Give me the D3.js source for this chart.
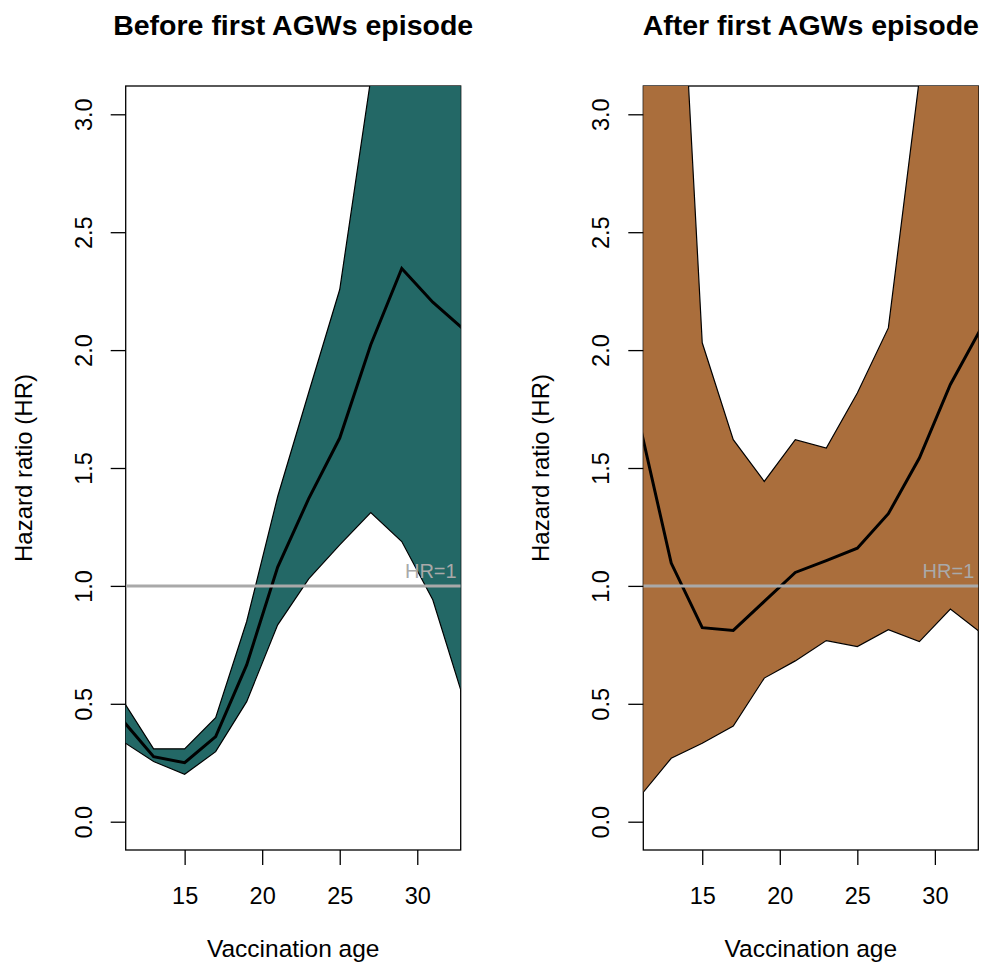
<!DOCTYPE html>
<html>
<head>
<meta charset="utf-8">
<script src="https://cdn.jsdelivr.net/npm/d3@7"></script>
<style>
  body { margin: 0; background: #fff; }
  text { font-family: "Liberation Sans", Arial, sans-serif; }
</style>
</head>
<body>
<svg id="chart" width="982" height="968"></svg>
<script>
// vaccination ages (knots)
var ages = [11, 13, 15, 17, 19, 21, 23, 25, 27, 29, 31, 33];

// before first AGWs episode
var beforeHR = [0.43, 0.276, 0.250, 0.361, 0.665, 1.08, 1.37, 1.627, 2.023, 2.346, 2.203, 2.087];
var beforeLo = [0.341, 0.255, 0.201, 0.297, 0.509, 0.835, 1.03, 1.174, 1.311, 1.188, 0.941, 0.517];
var beforeHi = [0.516, 0.309, 0.309, 0.441, 0.849, 1.379, 1.82, 2.257, 3.15, 4.6, 5.6, 6.5];

// after first AGWs episode
var afterHR = [1.676, 1.097, 0.823, 0.811, 0.934, 1.057, 1.107, 1.160, 1.306, 1.542, 1.854, 2.095];
var afterLo = [0.109, 0.269, 0.333, 0.406, 0.609, 0.682, 0.768, 0.743, 0.814, 0.764, 0.902, 0.80];
var afterHi = [9.0, 4.5, 2.031, 1.620, 1.443, 1.620, 1.585, 1.818, 2.094, 3.15, 4.5, 6.0];

var xTicks = [15, 20, 25, 30];
var yTicks = [0, 0.5, 1, 1.5, 2, 2.5, 3];

var svg = d3.select("#chart");

var top_ = 86, bottom = 850, plotW = 335;

function panel(left, id, title, hr, lo, hi, fill) {
  var x = d3.scaleLinear().domain([11.2, 32.8]).range([left, left + plotW]);
  var y = d3.scaleLinear().domain([-0.12, 3.12]).range([bottom, top_]);
  var g = svg.append("g");

  g.append("clipPath").attr("id", id)
    .append("rect").attr("x", left).attr("y", top_).attr("width", plotW).attr("height", bottom - top_);

  // box
  g.append("rect")
    .attr("x", left).attr("y", top_).attr("width", plotW).attr("height", bottom - top_)
    .attr("fill", "white").attr("stroke", "black").attr("stroke-width", 1.3);

  var pts = ages.map((a, i) => [a, lo[i], hi[i], hr[i]]);
  var band = d3.area().x(d => x(d[0])).y0(d => y(d[1])).y1(d => y(d[2]));
  var pg = g.append("g").attr("clip-path", "url(#" + id + ")");
  pg.append("path")
    .attr("d", band(pts) + "Z")
    .attr("fill", fill).attr("stroke", "black").attr("stroke-width", 1.2);

  pg.append("path").datum(pts)
    .attr("d", d3.line().x(d => x(d[0])).y(d => y(d[3])))
    .attr("fill", "none").attr("stroke", "black").attr("stroke-width", 3);

  // HR = 1 reference
  pg.append("line")
    .attr("x1", left).attr("x2", left + plotW).attr("y1", y(1)).attr("y2", y(1))
    .attr("stroke", "#a9a9a9").attr("stroke-width", 3);
  g.append("text").attr("x", left + plotW - 4).attr("y", y(1) - 8)
    .attr("text-anchor", "end").attr("font-size", 20).attr("fill", "#a9a9a9").text("HR=1");

  // axes
  var xa = g.append("g").attr("transform", "translate(0," + bottom + ")")
    .call(d3.axisBottom(x).tickValues(xTicks).tickSize(15).tickSizeOuter(0).tickPadding(22));
  xa.select(".domain").remove();
  xa.selectAll("line").attr("stroke-width", 1.3);
  xa.selectAll("text").attr("font-size", 23.5).attr("font-family", null).attr("fill", "black");

  var ya = g.append("g").attr("transform", "translate(" + left + ",0)")
    .call(d3.axisLeft(y).tickValues(yTicks).tickSize(15).tickFormat(d3.format(".1f")));
  ya.select(".domain").remove();
  ya.selectAll("line").attr("stroke-width", 1.3);
  ya.selectAll("text")
    .attr("font-size", 23.5).attr("font-family", null).attr("fill", "black")
    .attr("text-anchor", "middle").attr("dy", null).attr("x", null)
    .attr("transform", "translate(-34,0) rotate(-90)");

  // labels
  g.append("text").attr("x", left + plotW / 2).attr("y", 35)
    .attr("text-anchor", "middle").attr("font-size", 28.5).attr("font-weight", "bold").text(title);
  g.append("text").attr("x", left + plotW / 2).attr("y", 957)
    .attr("text-anchor", "middle").attr("font-size", 24.5).text("Vaccination age");
  g.append("text").attr("transform", "translate(" + (left - 94) + "," + ((top_ + bottom) / 2) + ") rotate(-90)")
    .attr("text-anchor", "middle").attr("font-size", 24).text("Hazard ratio (HR)");
}

panel(125.7, "clipA", "Before first AGWs episode", beforeHR, beforeLo, beforeHi, "#236866");
panel(643.3, "clipB", "After first AGWs episode", afterHR, afterLo, afterHi, "#aa6e3c");
</script>
</body>
</html>
